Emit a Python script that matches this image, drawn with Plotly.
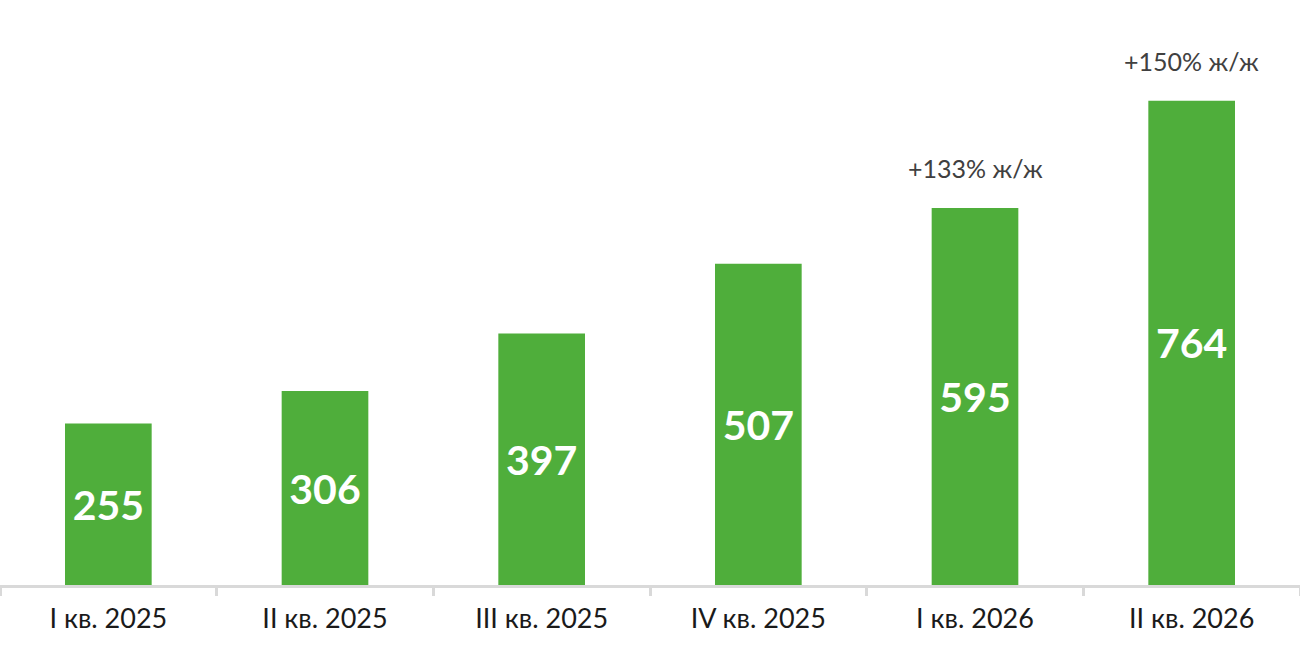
import plotly.graph_objects as go

# quarterly values
quarters = ['I кв. 2025', 'II кв. 2025', 'III кв. 2025', 'IV кв. 2025', 'I кв. 2026', 'II кв. 2026']
values = [255, 306, 397, 507, 595, 764]

# y/y growth notes above the last two bars
growth_quarters = ['I кв. 2026', 'II кв. 2026']
growth_values = [595, 764]
growth_labels = ['+133% ж/ж', '+150% ж/ж']

FONT = 'Lato'

fig = go.Figure()
fig.add_trace(go.Bar(
    x=quarters, y=values,
    marker=dict(color='#4FAE3B', line=dict(width=0)),
    text=[str(v) for v in values],
    textposition='inside',
    insidetextanchor='middle',
    textangle=0,
    textfont=dict(family=FONT, size=41, color='white', weight='bold'),
    hoverinfo='skip',
))

for q, v, lbl in zip(growth_quarters, growth_values, growth_labels):
    fig.add_annotation(x=q, y=v, text=lbl, showarrow=False,
                       yanchor='bottom', yshift=23,
                       font=dict(family=FONT, size=25, color='#404040'))

fig.update_layout(
    width=1300, height=649,
    margin=dict(l=0, r=0, t=0, b=64),
    paper_bgcolor='white', plot_bgcolor='white',
    bargap=0.6,
    showlegend=False,
    xaxis=dict(
        showline=True, linecolor='#D9D9D9', linewidth=2.5,
        ticks='outside', tickson='boundaries', ticklen=8,
        tickcolor='#D9D9D9', tickwidth=2.5,
        tickfont=dict(family=FONT, size=27, color='#1a1a1a'),
        ticklabelstandoff=8,
        showgrid=False,
    ),
    yaxis=dict(range=[0, 923], visible=False, showgrid=False),
)

# drop the default page margin so the chart sits at the window corner
fig.write_html('out.html', config={'displayModeBar': False},
               post_script="document.body.style.margin='0';")
